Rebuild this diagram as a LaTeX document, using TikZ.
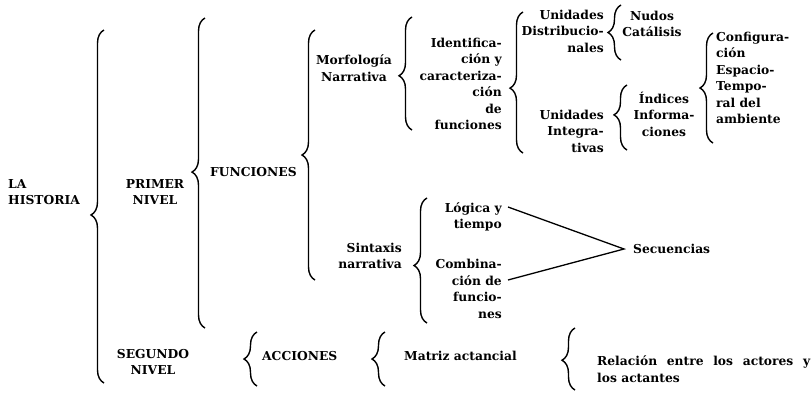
\documentclass[tikz,border=0pt]{standalone}
\usepackage{fontspec}
\setmainfont{DejaVu Serif}
\usetikzlibrary{decorations.pathreplacing}
\tikzset{
  txt/.style={font=\bfseries\fontsize{12.3}{16.5}\selectfont, inner sep=0pt},
  brc/.style={decorate, line width=1.4pt, decoration={brace, amplitude=13pt, aspect=#1}},
  brc/.default=0.5,
  ln/.style={line width=1.3pt}
}
\begin{document}
\begin{tikzpicture}[x=1pt,y=-1pt]
\useasboundingbox (0,0) rectangle (812,413);

% texts
\node[txt, anchor=west, align=left] (la) at (8,192) {LA\\HISTORIA};
\node[txt, align=center] (primer) at (155,192) {PRIMER\\NIVEL};
\node[txt, anchor=west] (func) at (210,172) {FUNCIONES};
\node[txt, align=center] (morf) at (354,68) {Morfología\\Narrativa};
\node[txt, anchor=east, align=right] (ident) at (502,84) {Identifica-\\ción y\\caracteriza-\\ción\\de\\funciones};
\node[txt, anchor=east, align=right] (udist) at (604,31) {Unidades\\Distribucio-\\nales};
\node[txt, align=center] (nudos) at (652,24) {Nudos\\Catálisis};
\node[txt, anchor=west, align=left] (config) at (716,78) {Configura-\\ción\\Espacio-\\Tempo-\\ral del\\ambiente};
\node[txt, align=center] (indices) at (664,114) {Índices\\Informa-\\ciones};
\node[txt, anchor=east, align=right] (uinteg) at (604,131) {Unidades\\Integra-\\tivas};
\node[txt, anchor=east, align=right] (sintaxis) at (402,256) {Sintaxis\\narrativa};
\node[txt, anchor=east, align=right] (logica) at (502,217) {Lógica y\\tiempo};
\node[txt, anchor=east, align=right] (combina) at (502,289) {Combina-\\ción de\\funcio-\\nes};
\node[txt, anchor=west] (secuencias) at (633,249) {Secuencias};
\node[txt, align=center] (segundo) at (153,362) {SEGUNDO\\NIVEL};
\node[txt, anchor=west] (acciones) at (262,356) {ACCIONES};
\node[txt, anchor=west] (matriz) at (404,356) {Matriz actancial};
\node[txt, anchor=west, align=left] (relacion) at (597,369) {\hbox to 213pt{Relación\hfill entre\hfill los\hfill actores\hfill y}\\los actantes};

% brace end points (path x = bar x + 6.5)
\coordinate (b1t) at (104,30);  \coordinate (b1b) at (104,383);
\coordinate (b2t) at (205,18);  \coordinate (b2b) at (205,328);
\coordinate (b3t) at (315,30);  \coordinate (b3b) at (315,280);
\coordinate (b4t) at (412,17);  \coordinate (b4b) at (412,130);
\coordinate (b5t) at (523,12);  \coordinate (b5b) at (523,153);
\coordinate (b6t) at (621,5);   \coordinate (b6b) at (621,60);
\coordinate (b7t) at (713,33);  \coordinate (b7b) at (713,143);
\coordinate (b8t) at (627,85);  \coordinate (b8b) at (627,150);
\coordinate (b9t) at (427,198); \coordinate (b9b) at (427,323);
\coordinate (b10t) at (257,332); \coordinate (b10b) at (257,386);
\coordinate (b11t) at (385,332); \coordinate (b11b) at (385,386);
\coordinate (b12t) at (575,328); \coordinate (b12b) at (575,390);

\draw[brc=0.476] (b1b) -- (b1t);
\draw[brc=0.503] (b2b) -- (b2t);
\draw[brc=0.5] (b3b) -- (b3t);
\draw[brc=0.48] (b4b) -- (b4t);
\draw[brc=0.46] (b5b) -- (b5t);
\draw[brc=0.5] (b6b) -- (b6t);
\draw[brc=0.5] (b7b) -- (b7t);
\draw[brc=0.54] (b8b) -- (b8t);
\draw[brc=0.46] (b9b) -- (b9t);
\draw[brc=0.5] (b10b) -- (b10t);
\draw[brc=0.5] (b11b) -- (b11t);
\draw[brc=0.48] (b12b) -- (b12t);

% lines to Secuencias
\coordinate (apex) at (624,249);
\draw[ln] ([xshift=6pt]logica.east |- 0,207) -- (apex) -- ([xshift=6pt]combina.east |- 0,280);
\end{tikzpicture}
\end{document}
